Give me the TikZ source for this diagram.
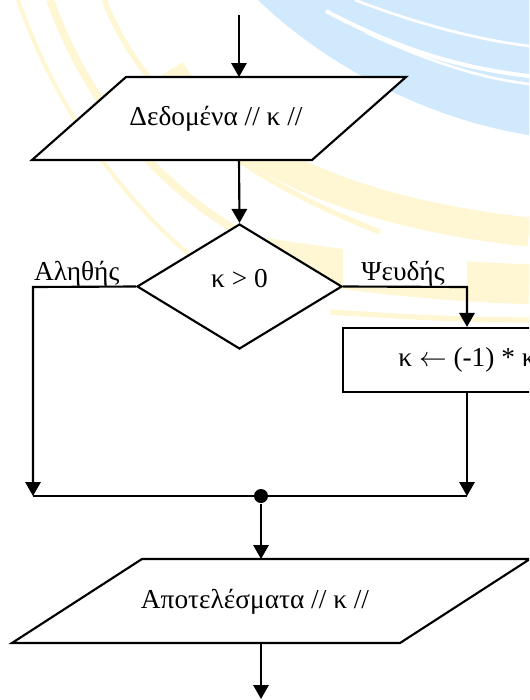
\documentclass[tikz,border=0pt]{standalone}
\usepackage{fontspec}
\setmainfont{Liberation Serif}
\usetikzlibrary{shapes.geometric,arrows.meta}
\definecolor{wmblue}{RGB}{208,233,252}
\definecolor{wmyellow}{RGB}{255,247,212}
\begin{document}
\begin{tikzpicture}[x=0.75pt, y=-0.75pt, line width=1.6pt,
    >={Triangle[width=11.5pt,length=10.5pt]},
    txt/.style={font=\fontsize{20.5}{24}\selectfont, inner sep=0pt},
    decision/.style={draw, diamond, fill=white, minimum width=153.75pt, minimum height=93.75pt, inner sep=0pt, font=\fontsize{20.5}{24}\selectfont},
    process/.style={draw, rectangle, fill=white, minimum width=186pt, minimum height=48pt, font=\fontsize{20.5}{24}\selectfont},
    dot/.style={circle, fill=black, inner sep=0pt, minimum size=10.5pt}]
        \useasboundingbox (0,0) rectangle (529,700);
        \clip (0,0) rectangle (529,700);

        % Watermark
        \begin{scope}[line width=0pt]
            \fill[wmblue] (258,0) .. controls (320,60) and (420,118) .. (529,135) -- (529,0) -- cycle;
            \draw[white, line width=3pt] (326,11) .. controls (400,50) and (460,68) .. (529,76);
            \draw[white, line width=2pt] (365,32) .. controls (430,62) and (480,78) .. (529,84);
            \draw[white, line width=2pt] (355,0) .. controls (420,25) and (480,40) .. (529,46);
            \draw[wmyellow, line width=3pt] (18,0) .. controls (60,120) and (140,230) .. (250,300);
            \draw[wmyellow, line width=6pt] (50,0) .. controls (90,110) and (170,210) .. (300,262);
            \draw[wmyellow, line width=4pt] (104,0) .. controls (140,90) and (220,170) .. (380,232);
            \draw[wmyellow, line width=22pt] (170,70) .. controls (220,150) and (340,212) .. (529,232);
            \draw[wmyellow, line width=30pt] (265,258) .. controls (380,276) and (470,283) .. (529,284);
            \draw[wmyellow, line width=4pt] (330,312) .. controls (420,318) and (480,320) .. (529,320);
        \end{scope}

        % Input
        \coordinate (start) at (239,15);
        \filldraw[fill=white] (126,77) -- (406,77) -- (312,160) -- (32,160) -- cycle;
        \coordinate (inTop) at (239,77);
        \coordinate (inBot) at (239,160);
        \node[txt] (inTxt) at (216,119) {Δεδομένα // κ //};
        \draw[->] (start) -- (inTop);

        % Condition
        \node[decision] (test) at (239.5,286.5) {\raisebox{12pt}{κ > 0}};
        \draw[->] (inBot) -- (test.north);

        % True branch
        \node[txt, anchor=base west] (yesLbl) at (33,280) {Αληθής};
        \coordinate (yesCorner) at (33,287);
        \coordinate (yesEnd) at (33,496);
        \draw[->] (test.west) -- (yesCorner) -- (yesEnd);

        % False branch
        \fill[white] (343,245) rectangle (467,286);
        \node[txt, anchor=base] (noLbl) at (403,280) {Ψευδής};
        \coordinate (noCorner) at (467,287);
        \node[process] (negate) at (467,360) {κ $\leftarrow$ (-1) * κ};
        \draw[->] (test.east) -- (noCorner) -- (negate.north);
        \coordinate (noEnd) at (467,496);
        \draw[->] (negate.south) -- (noEnd);

        % Merge
        \draw (yesEnd) -- (noEnd);
        \node[dot] (join) at (261,496) {};

        % Output
        \filldraw[fill=white] (142,559) -- (530,559) -- (400,643) -- (12,643) -- cycle;
        \coordinate (outTop) at (261,559);
        \coordinate (outBot) at (261,643);
        \coordinate (stop) at (261,699);
        \node[txt] (outTxt) at (255,602) {Αποτελέσματα // κ //};
        \draw[->] (join) -- (outTop);
        \draw[->] (outBot) -- (stop);
    \end{tikzpicture}
\end{document}
